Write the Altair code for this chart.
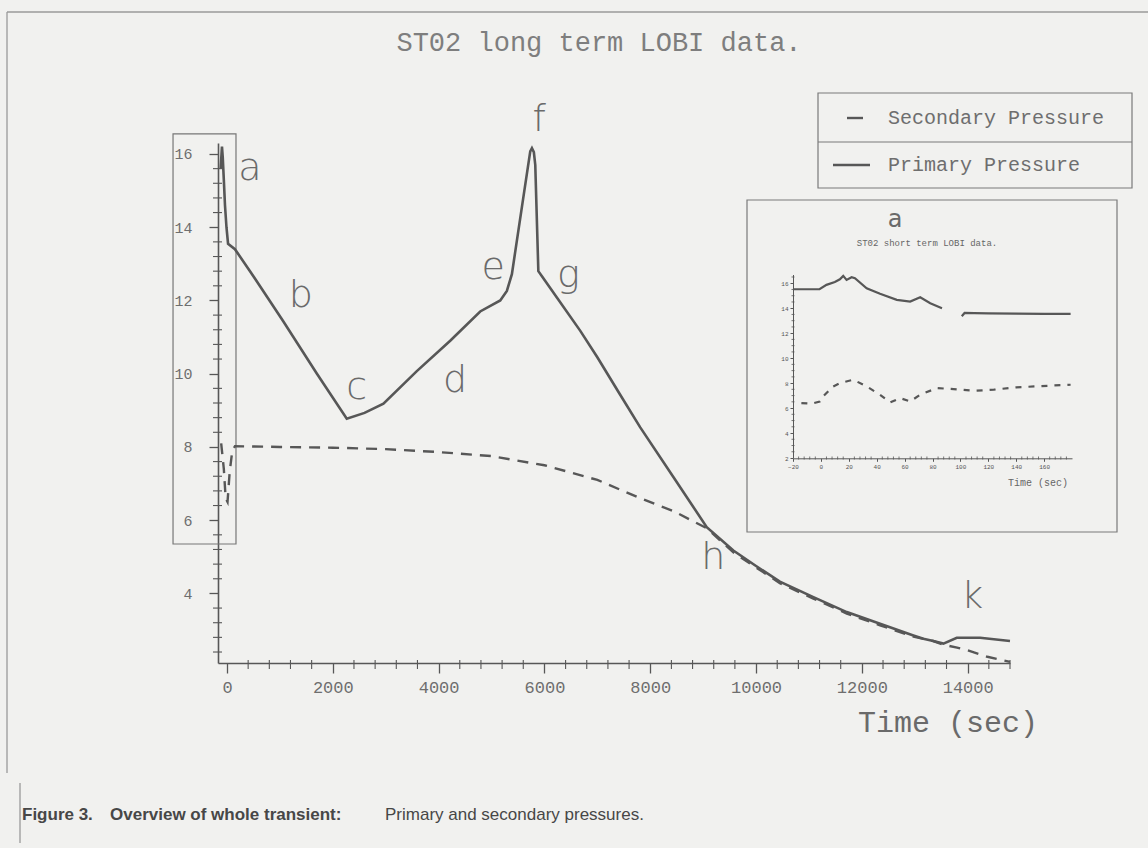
import altair as alt
import pandas as pd

# ---------------- data ----------------
primary_time = [-120, -95, -80, -60, -38, -10, 20, 150, 435, 1060, 1700, 2264, 2600, 2957, 3588,
                4219, 4786, 5165, 5290, 5385, 5600, 5732, 5764, 5800, 5827, 5885, 5953, 6235,
                6678, 7000, 7400, 7808, 8437, 9068, 9571, 10000, 10450, 11084, 11715, 12344,
                12974, 13163, 13350, 13541, 13794, 14235, 14800]
primary_pressure = [15.6, 16.2, 15.9, 15.3, 14.6, 14.0, 13.55, 13.4, 12.8, 11.44, 10.0, 8.77, 8.93,
                    9.18, 10.07, 10.9, 11.7, 12.0, 12.26, 12.72, 14.8, 16.07, 16.16, 16.05, 15.7,
                    12.8, 12.66, 12.08, 11.17, 10.45, 9.5, 8.54, 7.18, 5.81, 5.17, 4.75, 4.32,
                    3.9, 3.49, 3.17, 2.85, 2.76, 2.7, 2.63, 2.79, 2.79, 2.7]

secondary_time = [-110, -60, -25, 10, 50, 100, 151, 1000, 2000, 3000, 4000, 5000, 6000, 7000,
                  7808, 8437, 9068, 9571, 10450, 11084, 11715, 12344, 12974, 13350, 13541,
                  13800, 13994, 14372, 14800]
secondary_pressure = [8.1, 7.4, 6.6, 6.5, 7.3, 7.9, 8.02, 8.0, 7.98, 7.94, 7.86, 7.75, 7.5, 7.1,
                      6.6, 6.25, 5.78, 5.12, 4.28, 3.86, 3.45, 3.13, 2.82, 2.7, 2.6, 2.52, 2.45,
                      2.27, 2.13]

phase_letter = ["a", "b", "c", "d", "e", "f", "g", "h", "k"]
phase_time = [435, 1394, 2453, 4313, 5032, 5902, 6451, 9194, 14087]
phase_pressure = [15.58, 12.12, 9.62, 9.8, 12.9, 16.94, 12.67, 4.98, 3.9]

zoom_box_time = [-1020, 170]
zoom_box_pressure = [5.35, 16.55]

x_ticks = [0, 2000, 4000, 6000, 8000, 10000, 12000, 14000]
y_ticks = [4, 6, 8, 10, 12, 14, 16]
x_minor = [v for v in range(400, 14801, 400) if v % 2000 != 0]
y_minor = [round(2.4 + 0.4 * i, 1) for i in range(35) if round(2.4 + 0.4 * i, 1) % 2 != 0]

# inset: short term data
inset_primary_time = [-20, -1, 4, 10, 13.6, 16, 18.4, 22, 24.4, 32.8, 42.4, 54.4, 64, 71.2, 78.4, 86.8,
                      101, 103, 110, 120, 140, 160, 179]
inset_primary_pressure = [15.52, 15.52, 15.87, 16.1, 16.32, 16.59, 16.27, 16.48, 16.4, 15.6, 15.15,
                          14.67, 14.53, 14.88, 14.4, 14.0,
                          13.35, 13.62, 13.6, 13.58, 13.56, 13.55, 13.55]
inset_primary_segment = [1] * 16 + [2] * 7

inset_secondary_time = [-14, -6.8, -0.8, 1.6, 8.8, 13.6, 23.2, 32.8, 42.4, 49.6, 56.8, 64, 71.2,
                        83.2, 95.2, 109.6, 124, 138.5, 152.9, 167, 179]
inset_secondary_pressure = [6.4, 6.35, 6.53, 6.93, 7.73, 8.0, 8.27, 7.73, 7.07, 6.45, 6.8, 6.53,
                            7.07, 7.6, 7.52, 7.39, 7.47, 7.65, 7.73, 7.81, 7.87]
inset_x_ticks = [-20, 0, 20, 40, 60, 80, 100, 120, 140, 160]
inset_y_ticks = [2, 4, 6, 8, 10, 12, 14, 16]
inset_x_minor = [v for v in range(-20, 181, 4) if v % 20 != 0]
inset_y_minor = [round(2 + 0.5 * i, 1) for i in range(30) if (2 + 0.5 * i) % 2 != 0]

# ---------------- styling ----------------
INK = "#575757"
TXT = "#6e6e6e"
BG = "#f1f1ef"
MONO = "Liberation Mono"
SANS = "Liberation Sans"

W, H = 792, 520
X_DOM = [-170, 14800]
Y_DOM = [2.1, 16.3]

xs = alt.Scale(domain=X_DOM, nice=False, zero=False)
ys = alt.Scale(domain=Y_DOM, nice=False, zero=False)
x_axis = alt.Axis(values=x_ticks, format="d", tickSize=10, tickWidth=1.3, labelPadding=6,
                  labelFont=MONO, labelFontSize=17, labelColor=TXT, domainColor=INK,
                  domainWidth=1.6, tickColor=INK, title=None, grid=False, labelFlush=False)
y_axis = alt.Axis(values=y_ticks, format="d", tickSize=9, tickWidth=1.3, labelPadding=17,
                  labelFont=MONO, labelFontSize=15, labelColor=TXT, domainColor=INK,
                  domainWidth=1.6, tickColor=INK, title=None, grid=False)


def X(f):
    return alt.X(f, scale=xs, axis=x_axis)


def Y(f):
    return alt.Y(f, scale=ys, axis=y_axis)


one = pd.DataFrame({"o": [0]})


def txt(s, x, y, size, font=MONO, color=TXT, align="center", weight="normal"):
    return alt.Chart(one).mark_text(text=s, font=font, fontSize=size, color=color, align=align,
                                    baseline="middle", fontWeight=weight).encode(
        x=alt.value(x), y=alt.value(y))


def hline(x1, x2, y, w=1.2, color="#7a7a7a", dash=None):
    kw = dict(color=color, strokeWidth=w)
    if dash:
        kw["strokeDash"] = dash
    return alt.Chart(one).mark_rule(**kw).encode(x=alt.value(x1), x2=alt.value(x2), y=alt.value(y))


def vline(x, y1, y2, w=1.2, color="#7a7a7a"):
    return alt.Chart(one).mark_rule(color=color, strokeWidth=w).encode(
        x=alt.value(x), y=alt.value(y1), y2=alt.value(y2))


def box(x1, x2, y1, y2, w=1.2, color="#7a7a7a"):
    return alt.Chart(one).mark_rect(fillOpacity=0, stroke=color, strokeWidth=w).encode(
        x=alt.value(x1), x2=alt.value(x2), y=alt.value(y1), y2=alt.value(y2))


prim_df = pd.DataFrame({"t": primary_time, "p": primary_pressure})
sec_df = pd.DataFrame({"t": secondary_time, "p": secondary_pressure})
phase_df = pd.DataFrame({"t": phase_time, "p": phase_pressure, "l": phase_letter})
zbox_df = pd.DataFrame({"t1": [zoom_box_time[0]], "t2": [zoom_box_time[1]],
                        "p1": [zoom_box_pressure[0]], "p2": [zoom_box_pressure[1]]})

primary = alt.Chart(prim_df).mark_line(color=INK, strokeWidth=2.6).encode(x=X("t:Q"), y=Y("p:Q"))
secondary = alt.Chart(sec_df).mark_line(color=INK, strokeWidth=2.4, strokeDash=[11, 8]).encode(
    x=X("t:Q"), y=Y("p:Q"))
zbox = alt.Chart(zbox_df).mark_rect(fillOpacity=0, stroke="#777", strokeWidth=1.2).encode(
    x=X("t1:Q"), x2="t2:Q", y=Y("p1:Q"), y2="p2:Q")
xminor = alt.Chart(pd.DataFrame({"v": x_minor})).mark_rule(color=INK, strokeWidth=1.1).encode(
    x=X("v:Q"), y=alt.value(H - 3), y2=alt.value(H + 6))
yminor = alt.Chart(pd.DataFrame({"v": y_minor})).mark_rule(color=INK, strokeWidth=1.1).encode(
    y=Y("v:Q"), x=alt.value(-5), x2=alt.value(4))
letters = alt.Chart(phase_df).mark_text(font="DejaVu Sans", fontWeight=200, fontSize=38,
                                        color="#6a6a6a", baseline="middle").encode(
    x=X("t:Q"), y=Y("p:Q"), text="l:N")

CAP = "#474747"
decor = [
    # outer frame
    hline(-211, 930, -131, 1.3, "#9a9a9a"),
    vline(-211, -131, 630, 1.3, "#9a9a9a"),
    vline(-198, 640, 700, 1.3, "#9a9a9a"),
    # title and axis title
    txt("ST02 long term LOBI data.", 381, -100, 27, color="#7e7e7e"),
    txt("Time (sec)", 730, 580, 30, color="#6a6a6a"),
    # legend
    box(600, 914, -50, 45),
    hline(600, 914, -1),
    hline(629, 645, -25, 2.4, INK),
    hline(615, 652, 22, 2.6, INK),
    txt("Secondary Pressure", 670, -25, 20, align="left"),
    txt("Primary Pressure", 670, 22, 20, align="left"),
    # inset frame and texts
    box(529, 899, 57, 389),
    txt("a", 677, 77, 24, font="DejaVu Sans", color="#6a6a6a"),
    txt("ST02 short term LOBI data.", 709, 100, 9, color="#666"),
    txt("Time (sec)", 820, 340, 10, color="#666"),
    # caption
    txt("Figure 3.", -196, 672, 17, font=SANS, color=CAP, align="left", weight=600),
    txt("Overview of whole transient:", -108, 672, 17, font=SANS, color=CAP, align="left",
        weight=600),
    txt("Primary and secondary pressures.", 167, 672, 17, font=SANS, color=CAP, align="left"),
]

main = alt.layer(zbox, xminor, yminor, primary, secondary, letters, *decor)

# ---------------- inset ----------------
ixs = alt.Scale(domain=[-20, 180], range=[575, 854], nice=False, zero=False)
iys = alt.Scale(domain=[2, 16.7], range=[315, 131.5], nice=False, zero=False)
ix_axis = alt.Axis(orient="bottom", offset=-204.7, values=inset_x_ticks, format="d", tickSize=3,
                   labelPadding=2, labelFont=MONO, labelFontSize=6, labelColor="#555",
                   domainColor=INK, tickColor=INK, title=None, grid=False, labelFlush=False)
iy_axis = alt.Axis(orient="left", offset=-575, values=inset_y_ticks, format="d", tickSize=3,
                   labelPadding=2, labelFont=MONO, labelFontSize=6, labelColor="#555",
                   domainColor=INK, tickColor=INK, title=None, grid=False)


def IX(f):
    return alt.X(f, scale=ixs, axis=ix_axis)


def IY(f):
    return alt.Y(f, scale=iys, axis=iy_axis)


iprim_df = pd.DataFrame({"t": inset_primary_time, "p": inset_primary_pressure,
                         "s": inset_primary_segment})
isec_df = pd.DataFrame({"t": inset_secondary_time, "p": inset_secondary_pressure})

iprim = alt.Chart(iprim_df).mark_line(color=INK, strokeWidth=2.2).encode(
    x=IX("t:Q"), y=IY("p:Q"), detail="s:N")
isec = alt.Chart(isec_df).mark_line(color=INK, strokeWidth=2.2, strokeDash=[6, 7]).encode(
    x=IX("t:Q"), y=IY("p:Q"))
ixminor = alt.Chart(pd.DataFrame({"v": inset_x_minor})).mark_rule(color=INK, strokeWidth=0.8).encode(
    x=IX("v:Q"), y=alt.value(315 - 1.5), y2=alt.value(315 + 1.5))
iyminor = alt.Chart(pd.DataFrame({"v": inset_y_minor})).mark_rule(color=INK, strokeWidth=0.8).encode(
    y=IY("v:Q"), x=alt.value(575 - 1.5), x2=alt.value(575 + 1.5))

inset = alt.layer(ixminor, iyminor, iprim, isec)

chart = alt.layer(main, inset).resolve_scale(x="independent", y="independent").properties(
    width=W, height=H,
    autosize=alt.AutoSizeParams(type="none"),
    padding={"left": 218, "top": 143, "right": 138, "bottom": 185},
).configure(background=BG).configure_view(stroke=None)

chart.save("out.html", embed_options={"renderer": "svg", "actions": False})
